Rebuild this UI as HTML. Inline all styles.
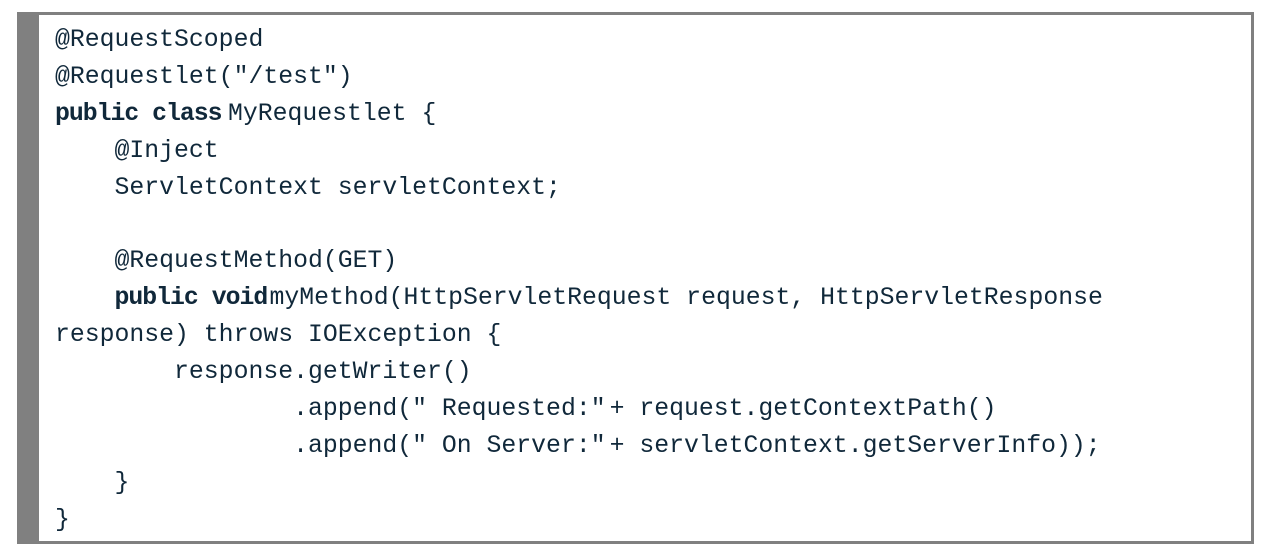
<!DOCTYPE html>
<html><head><style>
html,body{margin:0;padding:0;background:#fff;width:1266px;height:556px;overflow:hidden}
.box{position:absolute;left:17px;top:12px;width:1237px;height:532px;box-sizing:border-box;border:3px solid #808080;border-left:22px solid #808080;background:#fff}
.l{position:absolute;left:55px;height:37px;line-height:37px;font-family:"Liberation Mono",monospace;font-size:24.8px;color:#10283a;white-space:pre}
b{font-weight:bold;display:inline-block;letter-spacing:-1px}
.p{margin-left:4px}
</style></head><body>
<div class="box"></div>
<div class="l" style="top:22px">@RequestScoped</div>
<div class="l" style="top:59px">@Requestlet("/test")</div>
<div class="l" style="top:96px"><b style="width:173px">public class</b>MyRequestlet {</div>
<div class="l" style="top:133px">    @Inject</div>
<div class="l" style="top:170px">    ServletContext servletContext;</div>
<div class="l" style="top:243px">    @RequestMethod(GET)</div>
<div class="l" style="top:280px">    <b style="width:155px">public void</b>myMethod(HttpServletRequest request, HttpServletResponse</div>
<div class="l" style="top:317px">response) throws IOException {</div>
<div class="l" style="top:354px">        response.getWriter()</div>
<div class="l" style="top:391px">                .append(" Requested:"<span class="p">+</span> request.getContextPath()</div>
<div class="l" style="top:428px">                .append(" On Server:"<span class="p">+</span> servletContext.getServerInfo));</div>
<div class="l" style="top:465px">    }</div>
<div class="l" style="top:502px">}</div>
</body></html>
